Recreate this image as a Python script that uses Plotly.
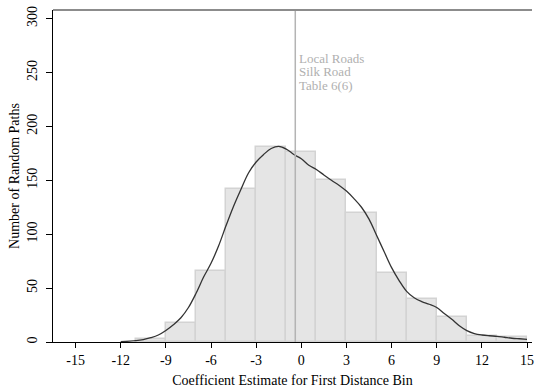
import plotly.graph_objects as go

# Histogram of first-distance-bin coefficients across random paths
bin_left = [-11, -9, -7, -5, -3, -1, 1, 3, 5, 7, 9, 11, 13]
bin_width = 2
counts = [3, 18, 66, 142, 181, 176, 150, 120, 64, 40, 23, 6, 5]

# Smoothed density, scaled to counts
dens_x = [-12, -11, -10.5, -10, -9.5, -9, -8.5, -8, -7.5, -7, -6.5, -6, -5.5, -5,
          -4.5, -4, -3.5, -3, -2.5, -2, -1.5, -1, -0.5, 0, 0.5, 1, 1.5, 2, 2.5, 3,
          3.5, 4, 4.5, 5, 5.5, 6, 6.5, 7, 7.5, 8, 8.5, 9, 9.5, 10, 10.5, 11, 11.5,
          12, 12.5, 13, 13.5, 14, 14.5, 15]
dens_y = [0.3, 1.2, 2.2, 4, 6.5, 10.7, 16, 22.5, 32, 45, 60, 73, 89, 108,
          126, 142, 157, 167, 174, 179.5, 181.5, 179, 174, 170, 164, 160, 155, 150, 145.5, 140,
          133, 125, 114, 99, 84, 69, 57, 47, 41, 37.5, 35, 32, 26.5, 21, 15, 10.5, 7.8,
          6.5, 5.8, 5.3, 4.4, 3.5, 3, 2.5]

# Reference estimate and its label
ref_x = -0.4
ref_label = ["Local Roads", "Silk Road", "Table 6(6)"]
ref_label_y = [263.3, 250.5, 237.7]

x_ticks = [-15, -12, -9, -6, -3, 0, 3, 6, 9, 12, 15]
y_ticks = [0, 50, 100, 150, 200, 250, 300]

FONT = "Liberation Serif, Times New Roman, serif"

fig = go.Figure()
fig.add_trace(go.Bar(
    x=bin_left, y=counts, width=bin_width, offset=0,
    marker=dict(color="#e5e5e5", line=dict(color="#d3d3d3", width=1.5)),
    hoverinfo="skip",
))
fig.add_trace(go.Scatter(
    x=dens_x, y=dens_y, mode="lines", line=dict(color="#333333", width=1.3, shape="spline"),
    hoverinfo="skip",
))

fig.add_shape(type="line", xref="x", yref="paper", x0=ref_x, x1=ref_x, y0=0, y1=1,
              line=dict(color="#b4b4b4", width=1.5))
fig.add_shape(type="line", xref="paper", yref="paper", x0=0, x1=1, y0=1, y1=1,
              line=dict(color="#8c8c8c", width=2))

for txt, yy in zip(ref_label, ref_label_y):
    fig.add_annotation(x=ref_x, y=yy, text=txt, showarrow=False, xanchor="left",
                       yanchor="middle", xshift=3, borderpad=0,
                       font=dict(family=FONT, size=13, color="#b0b0b0"))

fig.update_layout(
    width=534, height=391,
    margin=dict(l=53, r=0, t=10, b=49),
    paper_bgcolor="white", plot_bgcolor="white",
    showlegend=False,
    bargap=0,
    font=dict(family=FONT, size=14, color="black"),
    xaxis=dict(
        range=[-16.5, 15.33], tickvals=x_ticks, ticktext=[str(v) for v in x_ticks],
        showgrid=False, zeroline=False, showline=True, linecolor="black", linewidth=1,
        ticks="outside", ticklen=5, tickcolor="black", ticklabeloverflow="allow",
        tickfont=dict(family=FONT, size=14),
        title=dict(text="Coefficient Estimate for First Distance Bin",
                   font=dict(family=FONT, size=14), standoff=8),
    ),
    yaxis=dict(
        range=[0, 308], tickvals=y_ticks, ticktext=[str(v) for v in y_ticks],
        showgrid=False, zeroline=False, showline=True, linecolor="black", linewidth=1,
        ticks="outside", ticklen=6, tickcolor="black", tickangle=-90,
        ticklabelstandoff=3,
        tickfont=dict(family=FONT, size=14),
        title=dict(text="Number of Random Paths", font=dict(family=FONT, size=14), standoff=2),
    ),
)

fig.write_html("out.html")
